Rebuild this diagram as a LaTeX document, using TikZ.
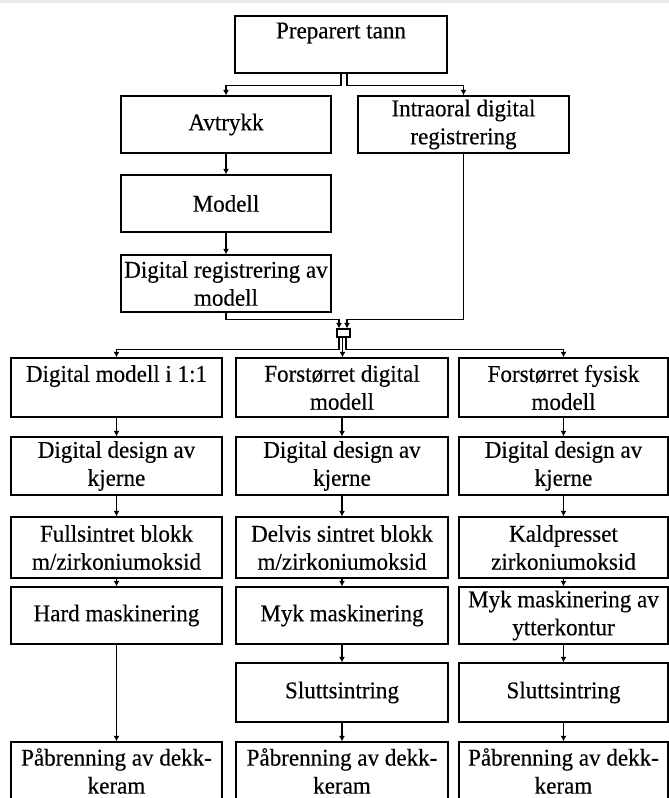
\documentclass[tikz,border=0pt]{standalone}
\usepackage{fontspec}
\setmainfont{Liberation Serif}[FakeStretch=0.96,FakeBold=0.3]
\usetikzlibrary{arrows.meta}
\definecolor{bandgrey}{HTML}{EEEAE9}
\begin{document}
\begin{tikzpicture}[x=1pt,y=-1pt,
  box/.style={draw, line width=1.2pt, inner sep=0pt, align=center,
    font=\fontsize{24}{28}\selectfont},
  arr/.style={line width=1.1pt, -{Latex[length=5.5pt,width=6pt]}},
  conn/.style={line width=1.1pt}]
\useasboundingbox (0,0) rectangle (669,798);
\clip (0,0) rectangle (669,798);
\fill[white] (0,0) rectangle (669,798);
\fill[bandgrey] (0,0) rectangle (669,3);

% upper part
\node[box, minimum width=212pt, minimum height=57pt] (prep) at (341,44.5) {Preparert tann\\\mbox{}};
\node[box, minimum width=210pt, minimum height=57pt] (avt) at (226,124.5) {Avtrykk};
\node[box, minimum width=211pt, minimum height=57pt] (intra) at (463.5,124.5) {Intraoral digital\\registrering};
\node[box, minimum width=210pt, minimum height=57pt] (mod) at (226,203.5) {Modell};
\node[box, minimum width=210pt, minimum height=57pt] (digreg) at (226,283.5) {Digital registrering av\\modell};
\node[draw, line width=1.1pt, inner sep=0pt, minimum width=13pt, minimum height=8pt] (mbox) at (343.5,333) {};

% columns
\def\ca{116.5}\def\cb{342}\def\cc{563.5}
\node[box, minimum width=211pt, minimum height=59pt] (r1a) at (\ca,387.5) {Digital modell i 1:1\\\mbox{}};
\node[box, minimum width=212pt, minimum height=59pt] (r1b) at (\cb,387.5) {Forstørret digital\\modell};
\node[box, minimum width=209pt, minimum height=59pt] (r1c) at (\cc,387.5) {Forstørret fysisk\\modell};

\node[box, minimum width=211pt, minimum height=58pt] (r2a) at (\ca,466) {Digital design av\\kjerne};
\node[box, minimum width=212pt, minimum height=58pt] (r2b) at (\cb,466) {Digital design av\\kjerne};
\node[box, minimum width=209pt, minimum height=58pt] (r2c) at (\cc,466) {Digital design av\\kjerne};

\node[box, minimum width=211pt, minimum height=61pt] (r3a) at (\ca,547.5) {Fullsintret blokk\\m/zirkoniumoksid};
\node[box, minimum width=212pt, minimum height=61pt] (r3b) at (\cb,547.5) {Delvis sintret blokk\\m/zirkoniumoksid};
\node[box, minimum width=209pt, minimum height=61pt] (r3c) at (\cc,547.5) {Kaldpresset\\zirkoniumoksid};

\node[box, minimum width=211pt, minimum height=57pt] (r4a) at (\ca,615.5) {Hard maskinering};
\node[box, minimum width=212pt, minimum height=57pt] (r4b) at (\cb,615.5) {Myk maskinering};
\node[box, minimum width=209pt, minimum height=57pt] (r4c) at (\cc,615.5) {Myk maskinering av\\ytterkontur};

\node[box, minimum width=212pt, minimum height=59pt] (r5b) at (\cb,692.5) {Sluttsintring};
\node[box, minimum width=209pt, minimum height=59pt] (r5c) at (\cc,692.5) {Sluttsintring};

\node[box, minimum width=211pt, minimum height=58pt] (r6a) at (\ca,771) {Påbrenning av dekk-\\keram};
\node[box, minimum width=212pt, minimum height=58pt] (r6b) at (\cb,771) {Påbrenning av dekk-\\keram};
\node[box, minimum width=209pt, minimum height=58pt] (r6c) at (\cc,771) {Påbrenning av dekk-\\keram};

% connectors upper
\draw[arr] (prep.south) -- ++(0,12) -| (avt.north);
\draw[arr] ([xshift=6pt]prep.south) -- ++(0,12) -| (intra.north);
\draw[arr] (avt.south) -- (mod.north);
\draw[arr] (mod.south) -- (digreg.north);
\draw[arr] (digreg.south) -- ++(0,7) -| ([xshift=-4.5pt]mbox.north);
\draw[arr] (intra.south) -- ++(0,166) -| ([xshift=3.5pt]mbox.north);

% merge to columns
\draw[arr] ([xshift=-4.5pt]mbox.south) -- ++(0,12) -| (r1a.north);
\draw[arr] ([xshift=2.5pt]mbox.south) -- ++(0,12) -| (r1c.north);
\draw[arr] ([xshift=-1pt]mbox.south) -- ([xshift=-1pt]mbox.south |- r1b.north);

% column flows
\draw[arr] (r1a.south) -- (r2a.north);
\draw[arr] (r2a.south) -- (r3a.north);
\draw[arr] (r3a.south) -- (r4a.north);
\draw[arr] (r4a.south) -- (r6a.north);

\draw[arr] (r1b.south) -- (r2b.north);
\draw[arr] (r2b.south) -- (r3b.north);
\draw[arr] (r3b.south) -- (r4b.north);
\draw[arr] (r4b.south) -- (r5b.north);
\draw[arr] (r5b.south) -- (r6b.north);

\draw[arr] (r1c.south) -- (r2c.north);
\draw[arr] (r2c.south) -- (r3c.north);
\draw[arr] (r3c.south) -- (r4c.north);
\draw[arr] (r4c.south) -- (r5c.north);
\draw[arr] (r5c.south) -- (r6c.north);
\end{tikzpicture}
\end{document}
